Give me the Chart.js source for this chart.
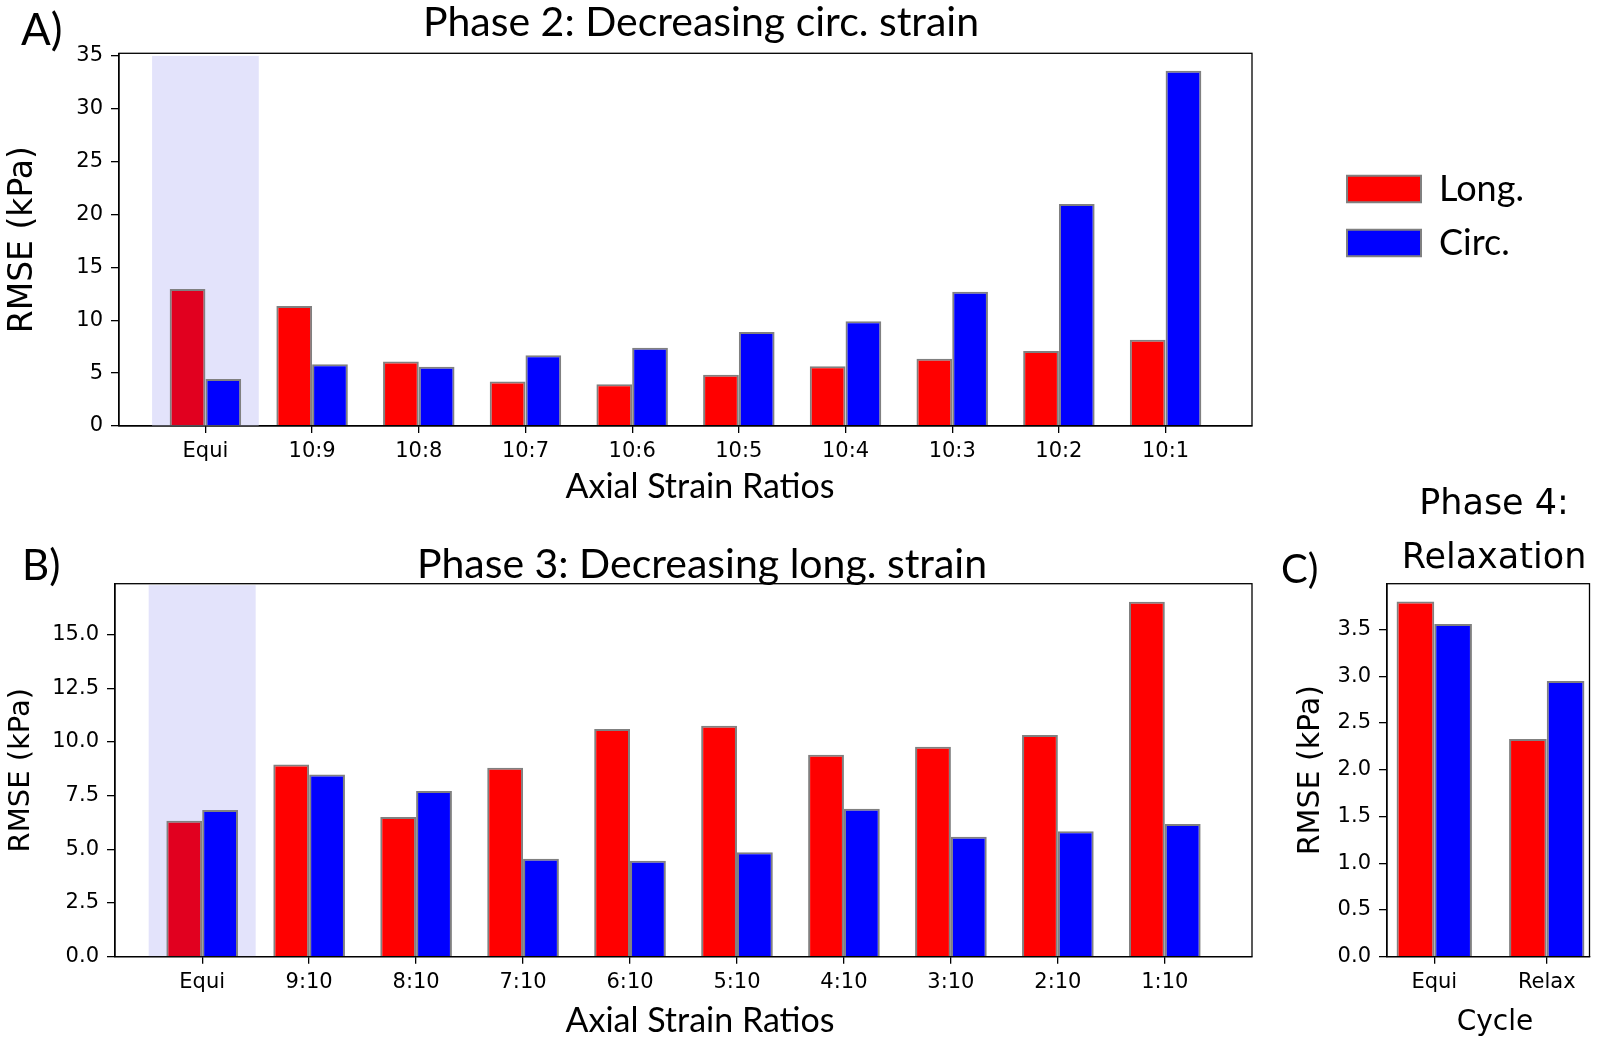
<!DOCTYPE html>
<html>
<head>
<meta charset="utf-8">
<title>RMSE by axial strain ratio</title>
<script src="https://cdn.jsdelivr.net/npm/chart.js@4.4.1/dist/chart.umd.min.js"></script>
<style>
  html, body { margin: 0; padding: 0; background: #fff; }
  body { width: 1600px; height: 1043px; position: relative; overflow: hidden; }
  canvas { position: absolute; }
  .txt { position: absolute; white-space: nowrap; line-height: 1; color: #000; }
  .cal { font-family: Lato, "Open Sans", sans-serif; }
  .dv { font-family: "DejaVu Sans", sans-serif; }
  .mid { transform: translateX(-50%); text-align: center; }
</style>
</head>
<body>
<canvas id="chartA" width="1600" height="507" style="left:0;top:0"></canvas>
<canvas id="chartB" width="1262" height="510" style="left:0;top:530px"></canvas>
<canvas id="chartC" width="316" height="508" style="left:1284px;top:530px"></canvas>

<div class="txt cal" style="left:21px;top:6px;font-size:44px">A)</div>
<div class="txt cal mid" style="left:701px;top:0px;font-size:41px">Phase 2: Decreasing circ. strain</div>
<div class="txt cal mid" style="left:700px;top:468px;font-size:34px">Axial Strain Ratios</div>
<div class="txt cal" style="left:22px;top:543px;font-size:42px">B)</div>
<div class="txt cal mid" style="left:702px;top:542px;font-size:41px">Phase 3: Decreasing long. strain</div>
<div class="txt cal mid" style="left:700px;top:1002px;font-size:34px">Axial Strain Ratios</div>
<div class="txt cal" style="left:1281px;top:548px;font-size:40px">C)</div>
<div class="txt dv mid" style="left:1494px;top:475px;font-size:35px;line-height:54px">Phase 4:<br>Relaxation</div>
<div class="txt dv mid" style="left:1495px;top:1007px;font-size:28px">Cycle</div>

<script>
// RMSE values (kPa)
var ratiosA = ['Equi', '10:9', '10:8', '10:7', '10:6', '10:5', '10:4', '10:3', '10:2', '10:1'];
var longA = [12.95, 11.35, 6.1, 4.2, 3.95, 4.85, 5.65, 6.35, 7.1, 8.15];
var circA = [4.45, 5.85, 5.6, 6.7, 7.4, 8.9, 9.9, 12.7, 21.0, 33.6];

var ratiosB = ['Equi', '9:10', '8:10', '7:10', '6:10', '5:10', '4:10', '3:10', '2:10', '1:10'];
var longB = [6.33, 8.95, 6.5, 8.8, 10.6, 10.75, 9.4, 9.78, 10.33, 16.53];
var circB = [6.83, 8.48, 7.72, 4.56, 4.47, 4.86, 6.89, 5.59, 5.84, 6.18];

var cycles = ['Equi', 'Relax'];
var longC = [3.8, 2.33];
var circC = [3.56, 2.95];

var yTicksA = [0, 5, 10, 15, 20, 25, 30, 35];
var yTicksB = [0, 2.5, 5, 7.5, 10, 12.5, 15];
var yTicksC = [0, 0.5, 1, 1.5, 2, 2.5, 3, 3.5];

var RED = '#ff0000', RED_SHADED = '#e1001f', BLUE = '#0000ff', EDGE = '#808080';
var CAL = 'Lato, "Open Sans", sans-serif';
var PLOT_RIGHT = 1252, LEGEND_GAP = 77;

Chart.defaults.font.family = '"DejaVu Sans", sans-serif';
Chart.defaults.color = '#000';

function points(values) {
    return values.map(function(v, i) { return { x: i, y: v }; });
}

// closed box round the plot area, like matplotlib spines
var frame = {
    id: 'frame',
    afterDraw: function(chart) {
        var a = chart.chartArea, ctx = chart.ctx;
        ctx.save();
        ctx.strokeStyle = '#000';
        ctx.lineWidth = 1.3;
        ctx.strokeRect(a.left, a.top, a.right - a.left, a.bottom - a.top);
        ctx.restore();
    }
};

// lavender band behind the Equi group
var band = {
    id: 'band',
    beforeDatasetsDraw: function(chart, args, opts) {
        if (opts.to === undefined) return;
        var x = chart.scales.x, y = chart.scales.y, ctx = chart.ctx;
        var l = x.getPixelForValue(opts.from), r = x.getPixelForValue(opts.to);
        var t = y.getPixelForValue(opts.top), b = y.getPixelForValue(0);
        ctx.save();
        ctx.fillStyle = opts.color;
        ctx.fillRect(l, t, r - l, b - t);
        ctx.restore();
    }
};

function makeChart(id, cfg) {
    var scales = {
        x: {
            type: 'linear',
            offset: false,
            min: cfg.xMin,
            max: cfg.xMax,
            afterBuildTicks: function(s) {
                s.ticks = cfg.labels.map(function(_, i) { return { value: i }; });
            },
            afterFit: function(s) { s.height = cfg.xAxisH; },
            ticks: {
                callback: function(v) { return cfg.labels[v]; },
                font: { size: 21 },
                padding: 6,
                maxRotation: 0,
                autoSkip: false
            },
            grid: { offset: false, drawOnChartArea: false, tickLength: 7, color: '#000', lineWidth: 1.3 },
            border: { color: '#000', width: 1.3 }
        },
        y: {
            min: 0,
            max: cfg.yMax,
            afterBuildTicks: function(s) {
                s.ticks = cfg.yTicks.map(function(v) { return { value: v }; });
            },
            afterFit: function(s) { s.width = cfg.yAxisW; },
            ticks: {
                callback: function(v) { return v.toFixed(cfg.decimals); },
                font: { size: 21 },
                padding: 8
            },
            grid: { drawOnChartArea: false, tickLength: 8, color: '#000', lineWidth: 1.3 },
            border: { color: '#000', width: 1.3 },
            title: { display: true, text: 'RMSE (kPa)', font: { size: cfg.yTitleSize }, padding: { top: cfg.yTitlePad, bottom: 0 } }
        }
    };
    if (cfg.legend) {
        // empty axis that keeps the legend away from the plot
        scales.spacer = {
            type: 'linear', axis: 'y', position: 'right', display: true,
            ticks: { display: false }, grid: { display: false }, border: { display: false },
            afterFit: function(s) { s.width = LEGEND_GAP; }
        };
    }

    var edge = { borderColor: EDGE, borderWidth: 2, borderSkipped: 'start' };
    return new Chart(document.getElementById(id), {
        type: 'bar',
        data: {
            datasets: [
                Object.assign({
                    label: 'Long.',
                    data: points(cfg.long),
                    backgroundColor: function(c) {
                        return cfg.band && c.dataIndex === 0 ? RED_SHADED : RED;
                    }
                }, edge),
                Object.assign({ label: 'Circ.', data: points(cfg.circ), backgroundColor: BLUE }, edge)
            ]
        },
        options: {
            responsive: false,
            animation: false,
            layout: { padding: cfg.padding },
            datasets: { bar: { categoryPercentage: 0.67, barPercentage: 1 } },
            scales: scales,
            plugins: {
                tooltip: { enabled: false },
                band: cfg.band || {},
                legend: cfg.legend ? {
                    display: true,
                    position: 'right',
                    align: 'start',
                    fullSize: false,
                    title: { display: true, text: '', font: { size: 10, lineHeight: 1 }, padding: { top: 89.6, bottom: 0 } },
                    labels: {
                        boxWidth: 74,
                        boxHeight: 26.5,
                        padding: 18,
                        font: { family: CAL, size: 36 },
                        generateLabels: function(chart) {
                            var items = Chart.defaults.plugins.legend.labels.generateLabels(chart);
                            items.forEach(function(it) { it.fillStyle = it.datasetIndex === 0 ? RED : BLUE; });
                            return items;
                        }
                    }
                } : { display: false }
            }
        },
        plugins: [band, frame]
    });
}

var chartA = makeChart('chartA', {
    labels: ratiosA, long: longA, circ: circA,
    xMin: -0.81, xMax: 9.81, yMax: 35.25, yTicks: yTicksA, decimals: 0,
    yTitleSize: 33, yTitlePad: 4, yAxisW: 119, xAxisH: 81,
    padding: { left: 0, top: 53.3, right: 150, bottom: 0 },
    band: { from: -0.5, to: 0.5, top: 35, color: '#e3e3fb' },
    legend: true
});
// the legend width is known only after the first layout: fit the plot's right edge to it
chartA.options.layout.padding.right = chartA.width - PLOT_RIGHT - LEGEND_GAP - chartA.legend.width;
chartA.update();

makeChart('chartB', {
    labels: ratiosB, long: longB, circ: circB,
    xMin: -0.815, xMax: 9.815, yMax: 17.37, yTicks: yTicksB, decimals: 1,
    yTitleSize: 29, yTitlePad: 4, yAxisW: 115, xAxisH: 83.3,
    padding: { left: 0, top: 53.7, right: 10, bottom: 0 },
    band: { from: -0.5, to: 0.5, top: 17.3, color: '#e3e3fb' }
});

makeChart('chartC', {
    labels: cycles, long: longC, circ: circC,
    xMin: -0.42, xMax: 1.38, yMax: 3.99, yTicks: yTicksC, decimals: 1,
    yTitleSize: 30, yTitlePad: 9, yAxisW: 103, xAxisH: 81.3,
    padding: { left: 0, top: 53.7, right: 10.5, bottom: 0 }
});
</script>
</body>
</html>
